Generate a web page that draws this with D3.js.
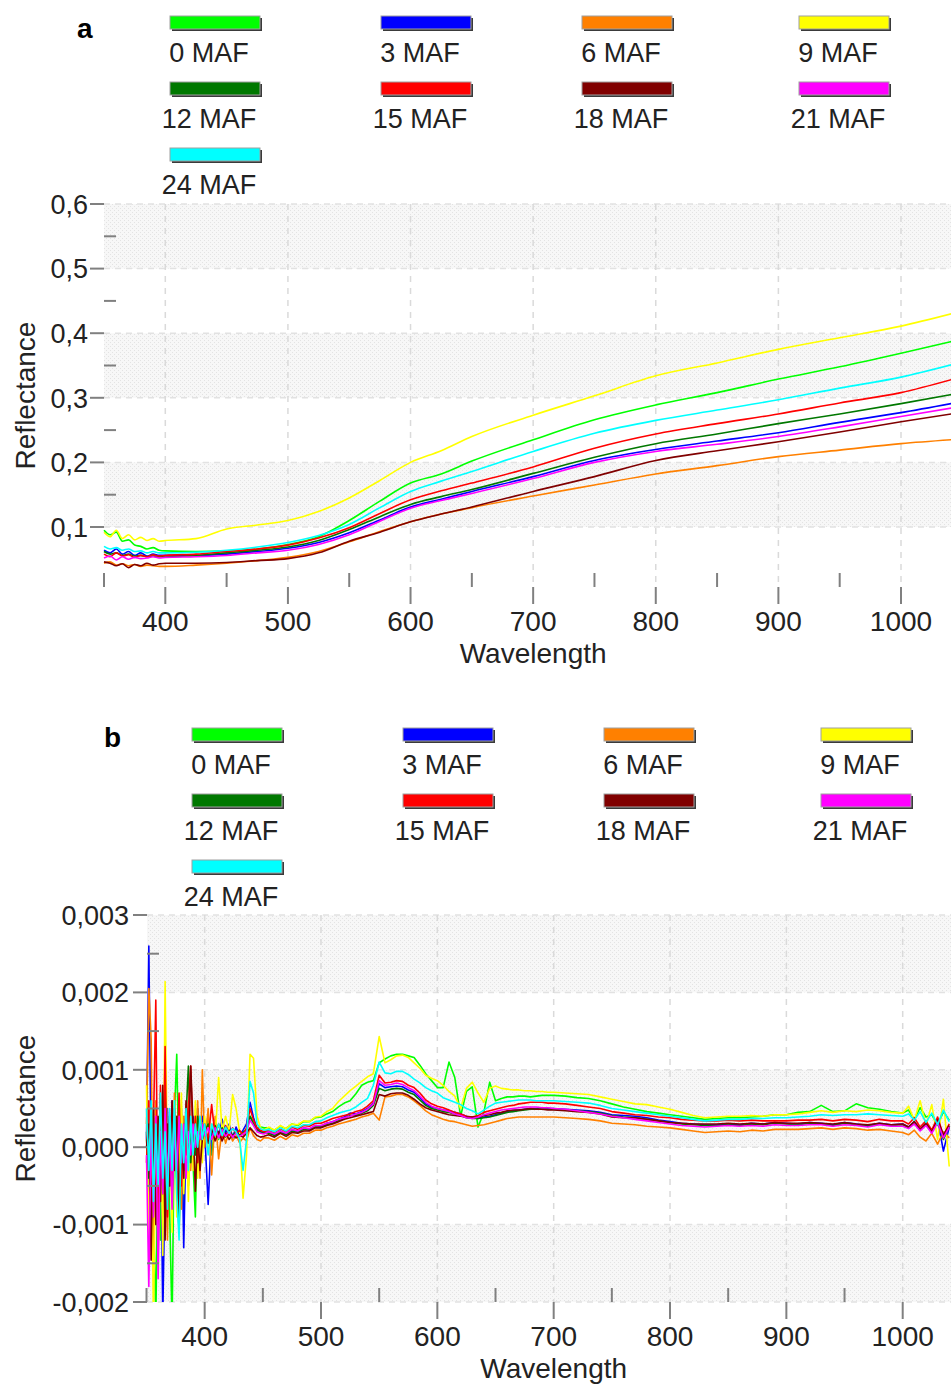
<!DOCTYPE html>
<html><head><meta charset="utf-8">
<script src="https://cdn.jsdelivr.net/npm/d3@7"></script>
<style>
body{margin:0;background:#fff}
svg{display:block}
text{font-family:"Liberation Sans",Arial,sans-serif;fill:#222}
</style>
</head><body>
<svg id="c" width="951" height="1385"></svg>
<script>
// ---------- shared categories ----------
const seriesNames  = ["0 MAF","3 MAF","6 MAF","9 MAF","12 MAF","15 MAF","18 MAF","21 MAF","24 MAF"];
const seriesColors = ["#00ff00","#0000ff","#ff8000","#ffff00","#007800","#ff0000","#800000","#ff00ff","#00ffff"];

// ---------- panel a : reflectance ----------
const waveA = [350,355,360,365,370,375,380,385,390,395,400,425,450,475,500,525,550,575,600,625,650,700,750,800,850,900,950,1000,1041];
const reflA_0  = [0.095,0.088,0.092,0.078,0.080,0.072,0.070,0.066,0.068,0.064,0.063,0.062,0.063,0.066,0.073,0.085,0.110,0.140,0.168,0.182,0.202,0.235,0.266,0.289,0.308,0.329,0.348,0.369,0.387];
const reflA_3  = [0.064,0.060,0.066,0.058,0.062,0.056,0.060,0.055,0.058,0.056,0.056,0.056,0.058,0.062,0.067,0.076,0.091,0.111,0.131,0.143,0.155,0.178,0.203,0.220,0.233,0.246,0.262,0.277,0.291];
const reflA_6  = [0.044,0.046,0.041,0.043,0.040,0.042,0.039,0.041,0.040,0.039,0.039,0.041,0.044,0.048,0.053,0.062,0.077,0.093,0.108,0.120,0.130,0.148,0.165,0.182,0.195,0.209,0.219,0.229,0.235];
const reflA_9  = [0.092,0.085,0.095,0.082,0.088,0.080,0.084,0.079,0.082,0.078,0.079,0.082,0.097,0.103,0.110,0.124,0.145,0.172,0.200,0.218,0.240,0.273,0.303,0.334,0.354,0.375,0.393,0.411,0.430];
const reflA_12 = [0.062,0.058,0.060,0.056,0.058,0.055,0.056,0.054,0.055,0.054,0.054,0.056,0.060,0.064,0.069,0.079,0.096,0.116,0.135,0.147,0.158,0.183,0.208,0.229,0.244,0.260,0.275,0.291,0.305];
const reflA_15 = [0.058,0.054,0.060,0.055,0.057,0.053,0.056,0.054,0.057,0.055,0.056,0.058,0.062,0.066,0.072,0.083,0.099,0.121,0.142,0.156,0.168,0.193,0.222,0.244,0.260,0.275,0.292,0.308,0.328];
const reflA_18 = [0.046,0.044,0.040,0.043,0.037,0.042,0.040,0.044,0.041,0.043,0.044,0.044,0.045,0.048,0.051,0.060,0.078,0.092,0.108,0.120,0.131,0.155,0.178,0.203,0.218,0.232,0.247,0.263,0.275];
const reflA_21 = [0.052,0.055,0.049,0.054,0.050,0.053,0.051,0.052,0.054,0.052,0.053,0.054,0.056,0.060,0.064,0.073,0.088,0.109,0.129,0.141,0.152,0.175,0.200,0.217,0.228,0.240,0.255,0.271,0.284];
const reflA_24 = [0.070,0.066,0.068,0.064,0.066,0.062,0.063,0.060,0.062,0.060,0.060,0.061,0.064,0.069,0.076,0.087,0.104,0.130,0.155,0.171,0.186,0.217,0.245,0.265,0.281,0.297,0.315,0.332,0.351];
const yTicksA = [0.1,0.2,0.3,0.4,0.5,0.6];
const yMinorA = [0.15,0.25,0.35,0.45,0.55];

// ---------- panel b : first derivative (values in units of 1e-4) ----------
const UNIT_B = 1e-4;
const waveB = [350,352,354,356,358,360,362,364,366,368,370,372,374,376,378,380,382,384,386,388,390,392,394,396,398,400,
403,406,409,412,415,418,421,424,427,430,433,436,439,442,445,448,451,
455,460,465,470,475,480,485,490,495,500,505,510,515,520,525,530,535,540,545,550,555,560,565,570,575,580,585,590,595,600,
605,610,615,620,625,630,635,640,645,650,655,660,665,670,675,680,685,690,695,700,
710,720,730,740,750,760,770,780,790,800,810,820,830,840,850,860,870,880,890,900,910,920,930,940,950,960,970,980,990,1000,
1005,1010,1015,1020,1025,1030,1035,1040];
const derB_0 = [2,-6,5,-8,-23,3,-12,4,-7,2,-9,-23,4,12,-4,2,-8,3,-5,1,-2,-9,5,0,3,1,
4,-1,3,1,2.6,1.3,2.4,1.5,2.2,1.5,2,2.3,4,3.2,2.4,2.6,2.5,
2.5,2.2,2.7,2.4,3.0,2.8,3.3,3.3,3.8,3.9,4.3,4.6,5.2,5.7,6.0,6.9,8.0,8.4,8.6,10.9,11.4,11.8,12.0,12.0,11.8,11.6,10.6,9.5,8.6,7.7,
7.7,11.0,9.0,4.0,7.2,7.8,2.6,4.5,8.4,6.0,6.3,6.5,6.5,6.6,6.6,6.5,6.6,6.7,6.7,6.7,
6.6,6.4,6.3,6.0,5.6,5.2,4.9,4.6,4.4,4.2,4.0,3.8,3.6,3.7,3.8,3.8,3.9,4.0,4.2,4.2,4.5,4.6,5.4,4.6,4.7,5.6,5.1,4.9,4.6,4.4,
4.8,3.6,5.1,3.9,4.2,2.8,4.6,3.5];
const derB_3 = [1,26,-2,-11,4,-8,6,-22,-3,5,-5,6,-2,3,-4,5,-13,2,5,2,4,1,5,2,4,2,
-7.4,2.5,3.5,1.5,3.6,1.8,3.0,1.2,2.6,1.5,2.2,3.0,5.8,3.8,2.4,2.0,1.8,
2.0,1.6,2.1,1.7,2.3,2.0,2.5,2.3,2.8,2.7,3.1,3.3,3.6,3.9,4.4,4.3,4.6,5.0,5.7,8.2,7.7,7.8,7.9,7.8,7.4,7.1,6.4,5.6,5.2,5.0,
4.8,4.7,4.5,4.3,4.0,3.8,3.7,3.9,4.0,4.2,4.4,4.6,4.7,4.8,4.9,5.0,5.0,5.1,5.0,5.0,
4.9,4.8,4.7,4.5,4.2,4.1,4.0,3.8,3.5,3.3,3.1,3.0,2.9,2.9,3.0,2.9,3.1,3.0,3.2,3.1,3.0,3.2,3.1,2.9,3.2,3.0,2.8,3.1,2.9,3.0,
2.6,3.3,2.3,3.1,2.0,3.6,-0.5,2.6];
const derB_6 = [3,20.5,14,-16,6,-9,7,-4,6,-12,4,-6,7,-3,5,-8,4,-2,6,-3,3,-1,6,-4,10,0,
5,-3.6,4,-1.5,2.5,0.5,2,0.8,1.5,0.6,1.2,0.8,2.5,1.5,1.0,0.8,1.2,
1.2,0.9,1.4,1.0,1.6,1.4,1.8,1.8,2.2,2.2,2.5,2.7,3.0,3.2,3.4,3.6,3.9,4.1,4.4,3.5,6.5,6.6,6.8,6.8,6.5,6.0,5.4,4.7,4.2,3.9,
3.6,3.4,3.3,3.1,2.9,2.7,2.8,2.9,3.1,3.3,3.5,3.7,3.8,3.9,3.9,3.9,3.9,3.9,3.9,3.9,
3.8,3.7,3.6,3.4,3.1,3.0,2.9,2.7,2.6,2.5,2.3,2.1,1.9,2.0,2.1,2.0,2.2,2.1,2.3,2.3,2.3,2.4,2.5,2.3,2.5,2.4,2.2,2.3,2.1,1.9,
1.6,2.2,1.3,0.8,1.8,0.4,2.0,1.2];
const derB_9 = [8,-12,4,-23,2,-8,5,-14,21.4,-5,3,-11,6,-9,-3,7,-6,3,-7,4,-3,6,-4,2,-2,4,
0,3,1,9,2,4,2,6.8,5,2,-6.6,-1,12,11.5,4,2.5,2.2,
2.6,2.2,2.8,2.4,3.0,2.9,3.4,3.3,3.9,4.0,4.6,5.0,5.9,6.6,7.3,7.9,8.5,9.1,9.5,14.3,10.9,11.3,11.8,11.9,11.6,10.9,10.2,9.3,8.9,8.6,
8.0,7.2,6.6,5.0,7.6,8.4,7.0,5.8,7.6,7.9,7.6,7.5,7.4,7.4,7.3,7.3,7.2,7.2,7.1,7.1,
7.0,6.9,6.8,6.5,6.2,5.9,5.6,5.5,5.2,4.9,4.5,4.1,3.8,3.9,4.0,4.0,4.1,4.0,4.2,4.2,4.3,4.5,4.7,4.5,4.7,4.6,4.8,4.7,4.5,4.4,
5.3,3.5,6.0,2.8,5.5,1.0,6.2,-2.5];
const derB_12 = [1,-4,5,-6,3,-9,4,-5,7,-3,4,-6,3,-4,-11,2,-3,4,10.5,-2,3,-1,4,1,3,2,
3,1,2.8,1.3,2.5,1.4,2.2,1.4,2,1.5,1.9,2.2,4,3,2.2,2,1.9,
1.8,1.5,1.9,1.6,2.1,1.9,2.3,2.2,2.6,2.6,2.9,3.1,3.4,3.7,4.1,4.1,4.4,4.7,5.4,7.6,7.3,7.5,7.6,7.5,7.1,6.8,6.1,5.4,5.0,4.8,
4.6,4.5,4.3,4.1,3.8,3.7,3.7,3.8,3.9,4.1,4.3,4.5,4.6,4.7,4.8,4.9,4.9,5.0,4.9,4.9,
4.8,4.7,4.6,4.4,4.1,3.9,3.8,3.6,3.4,3.2,3.0,2.9,2.8,2.8,2.9,2.8,3.0,2.9,3.1,3.0,2.9,3.1,3.0,2.8,3.1,2.9,2.7,3.0,2.8,2.9,
2.5,3.2,2.2,3.0,1.9,3.4,1.0,2.7];
const derB_15 = [-2,6,-10,3,19,-14,8,-6,13,-9,3,-7,5,-2,7,-5,3,-1,5,10.5,0,4,-2,3,1,3,
1,5.5,1.5,3,1.2,2.8,1.5,2.5,1.8,2.2,1.6,2.5,5,3.5,2.5,2.2,2.0,
2.2,1.9,2.4,2.0,2.6,2.3,2.8,2.7,3.1,3.1,3.4,3.7,3.9,4.1,4.3,4.6,4.8,5.3,6.0,9.3,8.3,8.4,8.6,8.5,8.0,7.7,7.0,6.1,5.6,5.3,
5.1,4.8,4.5,4.3,4.0,3.9,4.1,4.5,4.7,4.9,5.1,5.3,5.4,5.6,5.7,5.8,5.8,5.8,5.7,5.7,
5.6,5.4,5.2,5.0,4.6,4.4,4.2,4.1,3.9,3.8,3.6,3.5,3.4,3.4,3.5,3.4,3.5,3.4,3.4,3.4,3.5,3.5,3.6,3.4,3.6,3.5,3.3,3.6,3.4,3.4,
3.0,3.8,2.6,3.4,2.2,3.9,1.5,3.0];
const derB_18 = [0,3,-14.6,5,-10,4,-7,8,-12,3,-5,6,-3,4,-8,2,-4,6,-2,10.5,3,-5.7,2,-3,1,2,
0.5,2.5,0.8,2,0.8,1.8,1,1.6,1.2,1.5,1.3,1.8,2.5,2,1.5,1.3,1.4,
1.6,1.3,1.8,1.4,1.9,1.8,2.1,2.1,2.5,2.5,2.8,3.0,3.3,3.6,3.8,4.0,4.2,4.4,4.6,6.8,6.6,6.9,7.0,7.0,6.7,6.2,5.6,5.1,4.8,4.6,
4.4,4.2,4.1,4.0,3.9,3.9,3.9,4.1,4.2,4.4,4.5,4.7,4.8,4.8,4.9,5.0,4.9,4.9,4.8,4.8,
4.7,4.6,4.5,4.3,3.9,3.8,3.8,3.6,3.4,3.2,3.1,3.0,3.0,3.0,3.1,3.0,3.1,3.0,3.2,3.1,3.1,3.2,3.1,3.0,3.2,3.0,2.9,3.1,2.9,3.0,
2.6,3.3,2.3,3.1,2.0,3.5,1.6,2.8];
const derB_21 = [-1,-18,3,-9,4,-17,2,-6,5,-4,2,-8,3,-3,4,-2,3,-4,2,-1,3,0,2,1,3,1.5,
2.5,1,2.5,1.2,2.3,1.4,2.0,1.3,1.8,1.4,1.7,2.0,3.5,2.8,2.0,1.8,1.7,
2.0,1.7,2.1,1.8,2.3,2.1,2.5,2.4,2.8,2.8,3.1,3.3,3.6,3.8,4.0,4.3,4.5,4.9,5.6,8.6,8.0,8.1,8.3,8.1,7.7,7.3,6.6,5.8,5.3,5.0,
4.8,4.6,4.3,4.1,3.8,3.7,3.9,4.2,4.4,4.6,4.8,4.9,5.0,5.1,5.2,5.2,5.2,5.1,5.1,5.0,
4.9,4.7,4.5,4.3,4.0,3.8,3.6,3.4,3.2,3.0,2.8,2.7,2.6,2.7,2.8,2.7,2.8,2.7,2.9,2.8,2.8,2.9,2.9,2.7,2.9,2.8,2.6,2.9,2.7,2.7,
2.4,3.0,2.1,2.8,1.8,3.2,1.2,2.6];
const derB_24 = [5,-3,6,-7,3,-5,7,-4,2,-8,5,-3,6,-6,-12,3,-2,5,-3,4,-1,3,0,4,1,3,
-1,3,1.5,3,1.5,2.6,1.8,2.4,2,1,-3,1,8.5,7,3,2.4,2.2,
2.3,2.0,2.5,2.1,2.7,2.5,2.9,2.9,3.3,3.4,3.8,4.1,4.4,4.6,4.8,5.2,5.8,6.3,8.0,11.0,9.6,9.5,9.8,9.8,9.4,8.8,8.3,7.7,7.3,7.0,
6.4,6.1,5.8,5.5,5.0,4.7,4.3,4.8,5.3,5.7,5.8,5.9,6.0,6.1,6.1,6.1,6.0,6.0,6.0,6.0,
5.9,5.8,5.7,5.4,5.0,4.8,4.6,4.4,4.2,4.0,3.8,3.6,3.4,3.5,3.6,3.6,3.7,3.7,3.8,3.8,3.9,4.0,4.2,4.1,4.2,4.2,4.3,4.2,4.1,4.0,
4.3,3.5,4.6,3.2,4.4,2.9,4.8,3.3];
const yTicksB = [-0.002,-0.001,0,0.001,0.002,0.003];
const yMinorB = [-0.0015,-0.0005,0.0005,0.0015,0.0025];

const xTicks = [400,500,600,700,800,900,1000];
const xMinor = [350,450,550,650,750,850,950];

// ---------- drawing ----------
const svg = d3.select("#c");
const defs = svg.append("defs");
const pat = defs.append("pattern").attr("id","stip").attr("width",4).attr("height",4)
  .attr("patternUnits","userSpaceOnUse");
pat.append("rect").attr("width",4).attr("height",4).attr("fill","#f7f7f7");
pat.append("rect").attr("x",0).attr("y",0).attr("width",1).attr("height",1).attr("fill","#e3e3e3");
pat.append("rect").attr("x",2).attr("y",2).attr("width",1).attr("height",1).attr("fill","#e3e3e3");

function drawPanel(cfg){
  const {id, x, y, left, right, top, bottom, bands, bandH, yTicks, yMinor, fmt,
         wave, series, unit, curve, letter, lx, ly, dx, dy, ytLabelX} = cfg;
  const g = svg.append("g");

  // bands
  g.selectAll("rect.band").data(bands).join("rect")
    .attr("x", left).attr("width", right - left)
    .attr("y", d => y(d + bandH)).attr("height", d => y(d) - y(d + bandH))
    .attr("fill", "url(#stip)");
  // horizontal dashed
  g.selectAll("line.hg").data(yTicks).join("line")
    .attr("x1", left).attr("x2", right).attr("y1", d => y(d)).attr("y2", d => y(d))
    .attr("stroke", "#e2e2e2").attr("stroke-width", 1.5).attr("stroke-dasharray", "6,5");
  // vertical dashed
  g.selectAll("line.vg").data(xTicks).join("line")
    .attr("x1", d => x(d)).attr("x2", d => x(d)).attr("y1", top).attr("y2", bottom)
    .attr("stroke", "#dadada").attr("stroke-width", 1.5).attr("stroke-dasharray", "6,6");

  // series
  defs.append("clipPath").attr("id", "clip" + id).append("rect")
    .attr("x", left - 2).attr("y", top).attr("width", right - left + 2).attr("height", bottom - top);
  const line = d3.line().x((d, i) => x(wave[i])).y(d => y(d * unit)).curve(curve);
  g.append("g").attr("clip-path", `url(#clip${id})`)
    .selectAll("path").data(series).join("path")
    .attr("d", d => line(d.values)).attr("fill", "none")
    .attr("stroke", d => d.color).attr("stroke-width", 1.6).attr("stroke-linejoin", "round");

  // ticks
  const tc = "#808080";
  g.selectAll("line.ym").data(yTicks).join("line")
    .attr("x1", left - 14).attr("x2", left).attr("y1", d => y(d)).attr("y2", d => y(d))
    .attr("stroke", tc).attr("stroke-width", 2);
  g.selectAll("line.yn").data(yMinor).join("line")
    .attr("x1", left).attr("x2", left + 12).attr("y1", d => y(d)).attr("y2", d => y(d))
    .attr("stroke", tc).attr("stroke-width", 2);
  g.selectAll("line.xm").data(xTicks).join("line")
    .attr("x1", d => x(d)).attr("x2", d => x(d)).attr("y1", bottom).attr("y2", bottom + 17)
    .attr("stroke", tc).attr("stroke-width", 2);
  g.selectAll("line.xn").data(xMinor).join("line")
    .attr("x1", d => x(d)).attr("x2", d => x(d)).attr("y1", bottom - 14).attr("y2", bottom)
    .attr("stroke", tc).attr("stroke-width", 2);

  // tick labels
  g.selectAll("text.yl").data(yTicks).join("text")
    .attr("x", ytLabelX).attr("y", d => y(d)).attr("dy", "0.36em")
    .attr("text-anchor", "end").attr("font-size", 27)
    .text(d => fmt(d));
  g.selectAll("text.xl").data(xTicks).join("text")
    .attr("x", d => x(d)).attr("y", bottom + 44)
    .attr("text-anchor", "middle").attr("font-size", 28)
    .text(d => d);

  // titles
  g.append("text").attr("x", x(700)).attr("y", bottom + 76)
    .attr("text-anchor", "middle").attr("font-size", 28).text("Wavelength");
  g.append("text").attr("transform", `translate(35,${(top + bottom) / 2}) rotate(-90)`)
    .attr("text-anchor", "middle").attr("font-size", 28).text("Reflectance");

  // panel letter
  g.append("text").attr("x", lx).attr("y", ly).attr("font-size", 28)
    .attr("font-weight", "bold").style("fill", "#000").text(letter);

  // legend
  const colX = [170, 381, 582, 799];
  const leg = g.append("g").attr("transform", `translate(${dx},${dy})`);
  const items = leg.selectAll("g").data(series).join("g")
    .attr("transform", (d, i) => `translate(${colX[i % 4]},${16 + Math.floor(i / 4) * 66})`);
  items.append("rect").attr("x", 2).attr("y", 2).attr("width", 90).attr("height", 13).attr("fill", "#3a3a3a");
  items.append("rect").attr("width", 90).attr("height", 13).attr("fill", d => d.color)
    .attr("stroke", "#a0a0a0").attr("stroke-width", 1);
  items.append("text").attr("x", 39).attr("y", 46).attr("text-anchor", "middle")
    .attr("font-size", 27).text(d => d.name);
}

const commaFmt = f => v => f(v).replace(".", ",").replace("\u2212", "-");

const seriesA = [reflA_0, reflA_3, reflA_6, reflA_9, reflA_12, reflA_15, reflA_18, reflA_21, reflA_24]
  .map((v, i) => ({name: seriesNames[i], color: seriesColors[i], values: v}));
const seriesB = [derB_0, derB_3, derB_6, derB_9, derB_12, derB_15, derB_18, derB_21, derB_24]
  .map((v, i) => ({name: seriesNames[i], color: seriesColors[i], values: v}));

const xA = d3.scaleLinear().domain([350, 1000]).range([104, 901]);
const yA = d3.scaleLinear().domain([0.1, 0.6]).range([527, 204]);
drawPanel({id: "a", x: xA, y: yA, left: 104, right: 951, top: 204, bottom: 587,
  bands: [0.1, 0.3, 0.5], bandH: 0.1, yTicks: yTicksA, yMinor: yMinorA,
  fmt: commaFmt(d3.format(".1f")), wave: waveA, series: seriesA, unit: 1,
  curve: d3.curveMonotoneX, letter: "a", lx: 77, ly: 38, dx: 0, dy: 0, ytLabelX: 88});

const xB = d3.scaleLinear().domain([350, 1000]).range([146.5, 902.7]);
const yB = d3.scaleLinear().domain([-0.002, 0.003]).range([1302, 915]);
drawPanel({id: "b", x: xB, y: yB, left: 147, right: 951, top: 915, bottom: 1302,
  bands: [-0.002, 0, 0.002], bandH: 0.001, yTicks: yTicksB, yMinor: yMinorB,
  fmt: commaFmt(d3.format(".3f")), wave: waveB, series: seriesB, unit: UNIT_B,
  curve: d3.curveLinear, letter: "b", lx: 104, ly: 747, dx: 22, dy: 712, ytLabelX: 129});
</script>
</body></html>
